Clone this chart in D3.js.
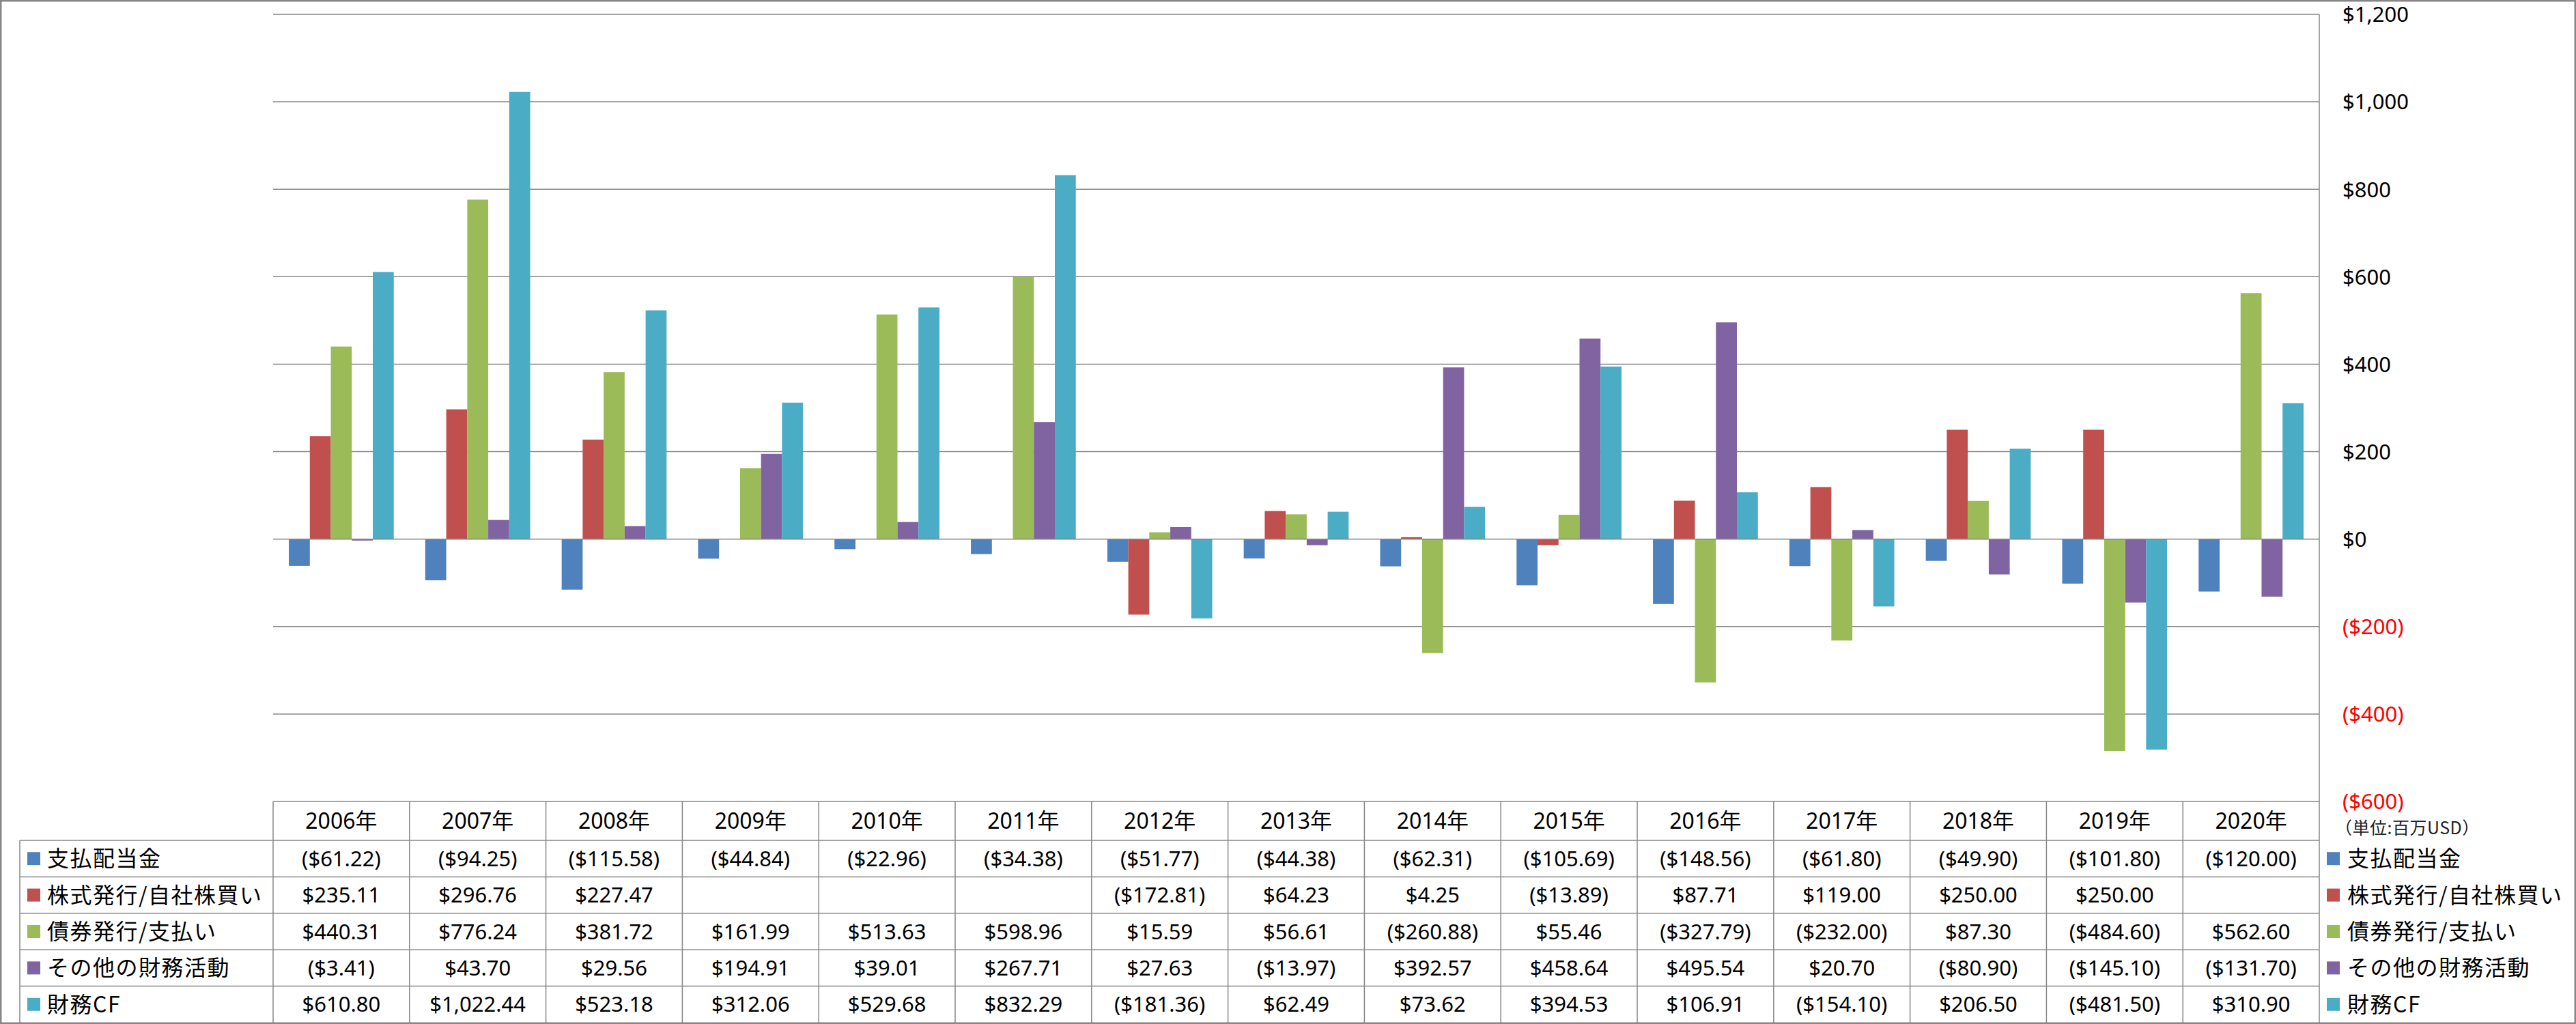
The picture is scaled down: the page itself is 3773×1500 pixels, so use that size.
<!DOCTYPE html>
<html>
<head>
<meta charset="utf-8">
<script src="https://cdn.jsdelivr.net/npm/d3@7"></script>
<style>
  html, body { margin: 0; padding: 0; background: #fff; }
  svg { display: block; }
</style>
</head>
<body>
<svg id="chart" width="3773" height="1500"></svg>
<script>
// ---- data ----
const years = ["2006年","2007年","2008年","2009年","2010年","2011年","2012年","2013年","2014年","2015年","2016年","2017年","2018年","2019年","2020年"];
const seriesNames = ["支払配当金","株式発行/自社株買い","債券発行/支払い","その他の財務活動","財務CF"];
const seriesColors = ["#4F81BD","#C0504D","#9BBB59","#8064A2","#4BACC6"];
const dividends = [-61.22,-94.25,-115.58,-44.84,-22.96,-34.38,-51.77,-44.38,-62.31,-105.69,-148.56,-61.80,-49.90,-101.80,-120.00];
const stockIssue = [235.11,296.76,227.47,null,null,null,-172.81,64.23,4.25,-13.89,87.71,119.00,250.00,250.00,null];
const bondIssue = [440.31,776.24,381.72,161.99,513.63,598.96,15.59,56.61,-260.88,55.46,-327.79,-232.00,87.30,-484.60,562.60];
const otherFin = [-3.41,43.70,29.56,194.91,39.01,267.71,27.63,-13.97,392.57,458.64,495.54,20.70,-80.90,-145.10,-131.70];
const financingCF = [610.80,1022.44,523.18,312.06,529.68,832.29,-181.36,62.49,73.62,394.53,106.91,-154.10,206.50,-481.50,310.90];
const yTicks = [-600,-400,-200,0,200,400,600,800,1000,1200];
const unitLabel = "（単位:百万USD）";

const seriesValues = [dividends, stockIssue, bondIssue, otherFin, financingCF];
const series = seriesNames.map((n,i)=>({name:n, color:seriesColors[i], values:seriesValues[i]}));

// ---- layout ----
const W = 3773, H = 1500;
const plotL = 400, plotR = 3397, plotT = 21, plotB = 1174;
const tableTop = 1174, headerB = 1231, tableB = 1498, labelL = 29;
const nRows = series.length;
const rowH = (tableB - headerB) / nRows;
const gridColor = "#878787";
const numFont = "'Noto Sans','Noto Sans CJK JP',sans-serif";
const cjkFont = "'Noto Sans CJK JP','Noto Sans',sans-serif";

const svg = d3.select("#chart");

const x = d3.scaleBand().domain(years).range([plotL, plotR]).paddingInner(0).paddingOuter(0);
const xs = d3.scaleBand().domain(seriesNames).range([0, x.bandwidth()]).paddingInner(0).paddingOuter(0.75);
const y = d3.scaleLinear().domain([-600, 1200]).range([plotB, plotT]);

const money = d3.format("$,.2f");
const fmtVal = v => v == null ? "" : (v < 0 ? "(" + money(-v) + ")" : money(v));
const axisFmt = v => v < 0 ? "(" + d3.format("$,")(-v) + ")" : d3.format("$,")(v);

// gridlines
svg.append("g").selectAll("line").data(yTicks.filter(t => t !== 0)).join("line")
  .attr("x1", plotL).attr("x2", plotR)
  .attr("y1", d => y(d)).attr("y2", d => y(d))
  .attr("stroke", gridColor).attr("stroke-width", 1.5);

// bars
const gBars = svg.append("g");
series.forEach(s => {
  gBars.append("g").attr("fill", s.color)
    .selectAll("rect")
    .data(years.map((yr,i)=>({yr, v:s.values[i]})).filter(d => d.v != null))
    .join("rect")
    .attr("x", d => x(d.yr) + xs(s.name))
    .attr("width", xs.bandwidth())
    .attr("y", d => y(Math.max(0, d.v)))
    .attr("height", d => Math.abs(y(d.v) - y(0)));
});

// zero axis line
svg.append("line")
  .attr("x1", plotL).attr("x2", plotR)
  .attr("y1", y(0)).attr("y2", y(0))
  .attr("stroke", gridColor).attr("stroke-width", 1.5);

// right axis
const axis = d3.axisRight(y).tickValues(yTicks).tickSize(0).tickPadding(34).tickFormat(axisFmt);
const gAxis = svg.append("g").attr("transform", `translate(${plotR},0)`).call(axis);
gAxis.select(".domain").remove();
gAxis.selectAll("text")
  .attr("font-family", numFont).attr("font-size", 31)
  .attr("fill", d => d < 0 ? "#FF0000" : "#000")
  .attr("dy", "0.35em");

// plot right border line (extends through table)
svg.append("line")
  .attr("x1", plotR).attr("x2", plotR).attr("y1", plotT).attr("y2", tableB)
  .attr("stroke", gridColor).attr("stroke-width", 1.5);

// ---- data table ----
const gT = svg.append("g");
gT.selectAll("line.v").data(years).join("line").attr("class","v")
  .attr("x1", d => x(d)).attr("x2", d => x(d))
  .attr("y1", tableTop).attr("y2", tableB)
  .attr("stroke", gridColor).attr("stroke-width", 1.5);
gT.append("line").attr("x1", labelL).attr("x2", labelL).attr("y1", headerB).attr("y2", tableB)
  .attr("stroke", gridColor).attr("stroke-width", 1.5);
const rowTops = d3.range(nRows).map(i => headerB + i * rowH);
gT.selectAll("line.h").data(rowTops).join("line").attr("class","h")
  .attr("x1", labelL).attr("x2", plotR)
  .attr("y1", d => d).attr("y2", d => d)
  .attr("stroke", gridColor).attr("stroke-width", 1.5);

// header years
gT.selectAll("text.yr").data(years).join("text").attr("class","yr")
  .attr("x", d => x(d) + x.bandwidth()/2)
  .attr("y", (tableTop + headerB)/2)
  .attr("text-anchor","middle").attr("dy","0.36em")
  .attr("font-family", numFont).attr("font-size", 32).attr("fill","#000")
  .text(d => d);

// rows
series.forEach((s, r) => {
  const cy = headerB + r * rowH + rowH/2;
  gT.append("rect").attr("x", 40).attr("y", cy - 9.5).attr("width", 19).attr("height", 19).attr("fill", s.color);
  gT.append("text").attr("x", 69).attr("y", cy).attr("dy","0.36em")
    .attr("font-family", cjkFont).attr("font-size", 32).attr("letter-spacing", 1.5).attr("fill","#000")
    .text(s.name);
  gT.append("g").selectAll("text").data(years.map((yr,i)=>({yr, v:s.values[i]}))).join("text")
    .attr("x", d => x(d.yr) + x.bandwidth()/2)
    .attr("y", cy).attr("dy","0.36em")
    .attr("text-anchor","middle")
    .attr("font-family", numFont).attr("font-size", 31).attr("fill","#000")
    .text(d => fmtVal(d.v));
  gT.append("rect").attr("x", 3408).attr("y", cy - 9.5).attr("width", 19).attr("height", 19).attr("fill", s.color);
  gT.append("text").attr("x", 3438).attr("y", cy).attr("dy","0.36em")
    .attr("font-family", cjkFont).attr("font-size", 32).attr("letter-spacing", 1.5).attr("fill","#000")
    .text(s.name);
});

// unit label
svg.append("text").attr("x", 3420).attr("y", 1213).attr("dy","0.36em")
  .attr("font-family", cjkFont).attr("font-size", 25).attr("letter-spacing", 0.5).attr("fill","#222")
  .text(unitLabel);

// outer border
svg.append("rect").attr("x", 1.25).attr("y", 1.25).attr("width", W - 2.5).attr("height", H - 2.5)
  .attr("fill","none").attr("stroke", gridColor).attr("stroke-width", 2.5);
</script>
</body>
</html>
